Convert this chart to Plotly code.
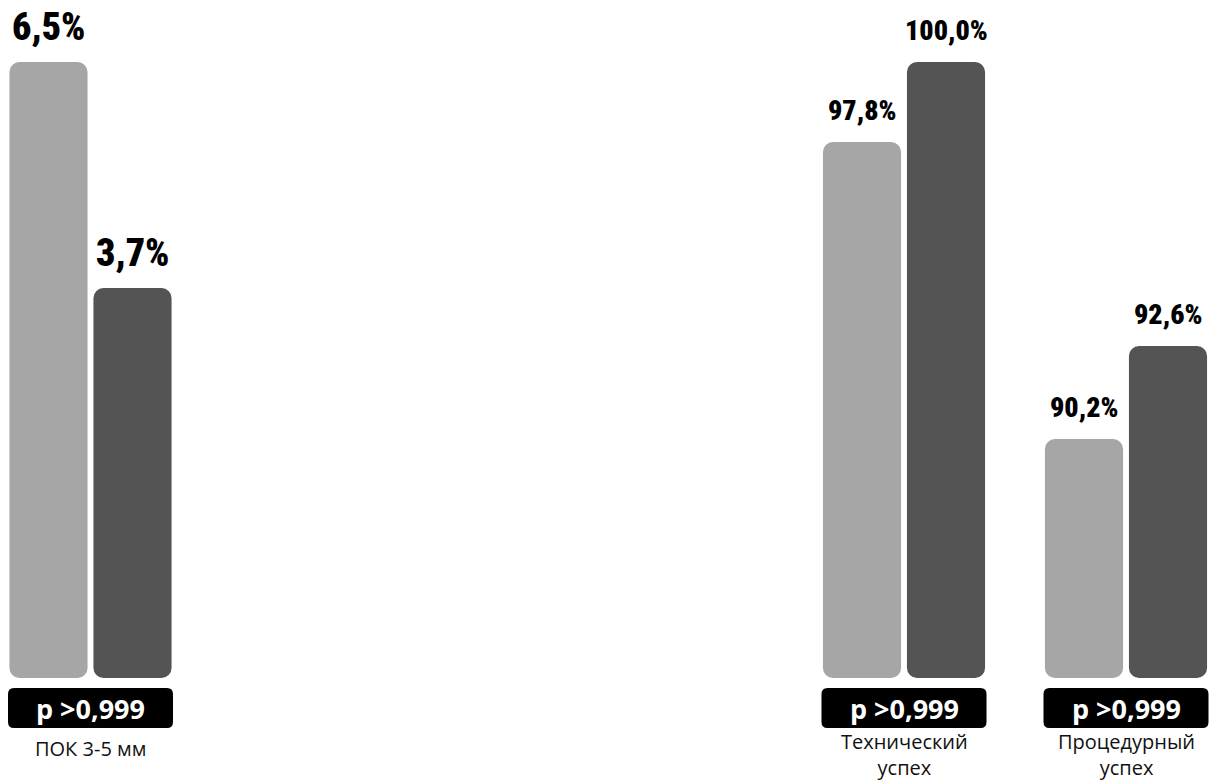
import plotly.graph_objects as go

# Chart data
categories = ["ПОК 3-5 мм", "Технический<br>успех", "Процедурный<br>успех"]
group_a = [6.5, 97.8, 90.2]    # light bars
group_b = [3.7, 100.0, 92.6]   # dark bars
p_labels = ["p >0,999", "p >0,999", "p >0,999"]

# Canvas and layout constants (pixels)
W, H = 1216, 781
MT, MB = 62, 103
PLOT_H = H - MT - MB

# Horizontal extent of each panel and the value window of its y axis
panel_px = [(6.5, 174.5), (820.0, 988.0), (1042.0, 1210.0)]
y_windows = [(-1.13, 6.5), (83.06, 100.0), (84.03, 99.93)]
label_sizes = [38, 28, 28]
label_shift = [11, 13, 13]

LIGHT = "#a6a6a6"
DARK = "#545454"
BAR_W = 0.93
RADIUS = 10
LABEL_FONT = "Roboto Condensed, Roboto, sans-serif"
TEXT_FONT = "Open Sans, Noto Sans, sans-serif"


def fmt(v):
    return f"{v:.1f}".replace(".", ",") + "%"


def py(pix):
    """Pixel row -> paper y."""
    return (H - MB - pix) / PLOT_H


def pill_path(x0, x1, y0, y1, r):
    rx, ry = r / W, r / PLOT_H
    X0, X1 = x0 / W, x1 / W
    Y0, Y1 = py(y1), py(y0)  # bottom, top in paper units
    return (
        f"M{X0 + rx},{Y0} L{X1 - rx},{Y0} Q{X1},{Y0} {X1},{Y0 + ry} "
        f"L{X1},{Y1 - ry} Q{X1},{Y1} {X1 - rx},{Y1} "
        f"L{X0 + rx},{Y1} Q{X0},{Y1} {X0},{Y1 - ry} "
        f"L{X0},{Y0 + ry} Q{X0},{Y0} {X0 + rx},{Y0} Z"
    )


fig = go.Figure()
annotations = []
shapes = []

for i, (cat, a, b, p) in enumerate(zip(categories, group_a, group_b, p_labels)):
    n = "" if i == 0 else str(i + 1)
    ix, iy = "x" + n, "y" + n
    lo, hi = y_windows[i]
    x0, x1 = panel_px[i]

    fig.layout["xaxis" + n] = dict(
        domain=[x0 / W, x1 / W], range=[-0.5, 1.5], visible=False,
        fixedrange=True, anchor=iy,
    )
    fig.layout["yaxis" + n] = dict(
        range=[lo, hi], visible=False, fixedrange=True, anchor=ix,
    )

    for xpos, val, col in ((0, a, LIGHT), (1, b, DARK)):
        # bar spans from the bottom of the panel's value window up to the value;
        # with an explicit base both ends get rounded corners
        fig.add_trace(go.Bar(
            x=[xpos], y=[val - lo], base=[lo], width=BAR_W,
            xaxis=ix, yaxis=iy,
            marker=dict(color=col, cornerradius=RADIUS, line=dict(width=0)),
            hoverinfo="skip", showlegend=False,
        ))
        annotations.append(dict(
            x=xpos, y=val, xref=ix, yref=iy, text=fmt(val),
            showarrow=False, yanchor="bottom", yshift=label_shift[i],
            font=dict(family=LABEL_FONT, size=label_sizes[i],
                      color="#000000", weight=900),
        ))

    # p-value pill under the pair of bars
    shapes.append(dict(
        type="path", xref="paper", yref="paper",
        path=pill_path(x0 + 1.5, x1 - 1.5, 688, 728, 6),
        fillcolor="#000000", line=dict(width=0), layer="above",
    ))
    annotations.append(dict(
        x=(x0 + x1) / 2 / W, y=py(708), xref="paper", yref="paper",
        text=p, showarrow=False, xanchor="center", yanchor="middle",
        font=dict(family=TEXT_FONT, size=27, color="#ffffff", weight="bold"),
    ))

    # category caption
    two_lines = "<br>" in cat
    annotations.append(dict(
        x=(x0 + x1) / 2 / W, y=py(726 if two_lines else 733),
        xref="paper", yref="paper",
        text=cat, showarrow=False, xanchor="center", yanchor="top",
        font=dict(family=TEXT_FONT, size=20, color="#111111"),
    ))

fig.update_layout(
    width=W, height=H,
    margin=dict(l=0, r=0, t=MT, b=MB),
    barmode="overlay",
    plot_bgcolor="#ffffff", paper_bgcolor="#ffffff",
    annotations=annotations, shapes=shapes,
    showlegend=False,
)

fig.write_html("out.html", config={"displayModeBar": False})
